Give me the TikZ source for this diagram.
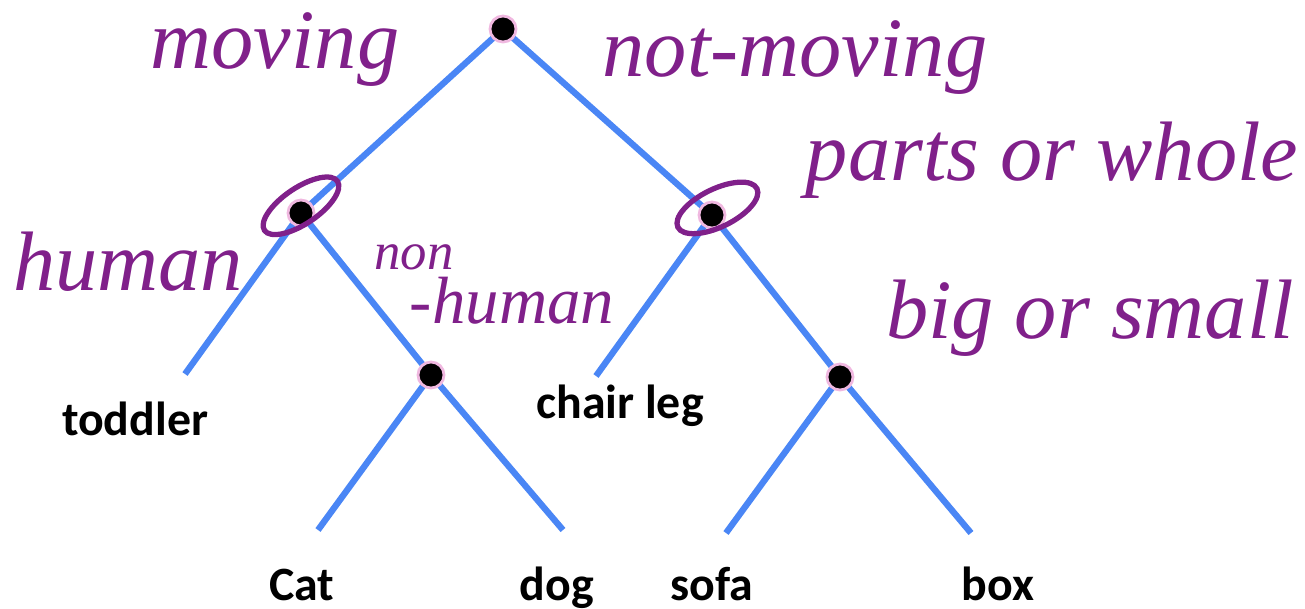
\documentclass[tikz,border=0pt]{standalone}
\usepackage{fontspec}
\setmainfont{Carlito}
\newfontfamily\handfont{Liberation Serif}
\usepackage{xcolor}
\usetikzlibrary{positioning}
\definecolor{branchblue}{HTML}{4A86F5}
\definecolor{inkpurple}{HTML}{80208A}
\definecolor{dotrim}{HTML}{F0B8E0}

\tikzset{
    split/.style={draw=dotrim, fill=black, circle, line width=0.8pt, minimum size=0.26cm, inner sep=0pt},
    branch/.style={draw=branchblue, line width=1.8pt},
    leaf/.style={font=\fontsize{13.6}{16}\selectfont\bfseries, anchor=base, inner sep=0pt},
    ink/.style={text=inkpurple, font=\fontsize{24}{28}\selectfont\handfont\itshape, inner sep=0pt},
    smallink/.style={ink, font=\fontsize{19}{22}\selectfont\handfont\itshape},
    loop/.style={draw=inkpurple, line width=1.5pt}
}

\begin{document}
\begin{tikzpicture}[x=0.01cm, y=-0.01cm]
    \useasboundingbox (0,0) rectangle (1305,608);
    % split points
    \coordinate (root) at (503,29);
    \coordinate (anim) at (301,213);
    \coordinate (obj) at (712,215);
    \coordinate (pet) at (431,375);
    \coordinate (size) at (840,377);
    % free ends of the branches
    \coordinate (e1) at (185,374);
    \coordinate (e2) at (596,376);
    \coordinate (e3) at (318,530);
    \coordinate (e4) at (563,530);
    \coordinate (e5) at (726,533);
    \coordinate (e6) at (971,533);
    \draw[branch] (anim) -- (root) -- (obj);
    \draw[branch] (e1) -- (anim) -- (pet);
    \draw[branch] (e2) -- (obj) -- (size);
    \draw[branch] (e3) -- (pet) -- (e4);
    \draw[branch] (e5) -- (size) -- (e6);
    \foreach \n in {root, anim, obj, pet, size}
        \node[split] (\n dot) at (\n) {};
    % leaf labels
    \node[leaf] (toddler) at (135,435) {toddler};
    \node[leaf] (chairleg) at (620,418) {chair leg};
    \node[leaf] (cat) at (302,600) {Cat};
    \node[leaf] (dog) at (557,600) {dog};
    \node[leaf] (sofa) at (712,600) {sofa};
    \node[leaf] (box) at (998,600) {box};
    % handwritten notes
    \node[ink] (moving) at (275,50) {moving};
    \node[ink] (notmoving) at (795,58) {not-moving};
    \node[ink] (parts) at (1052,160) {parts or whole};
    \node[ink] (human) at (128,262) {human};
    \node[smallink, font=\fontsize{15}{18}\selectfont\handfont\itshape] (non) at (414,257) {non};
    \node[smallink] (minushuman) at (512,301) {-human};
    \node[ink] (bigsmall) at (1090,318) {big or small};
    \draw[loop, rotate around={34:(animdot)}] (animdot) ++(4,-6) ellipse (44 and 18);
    \draw[loop, rotate around={26:(objdot)}] (objdot) ++(8,-4) ellipse (44 and 19);
\end{tikzpicture}
\end{document}
